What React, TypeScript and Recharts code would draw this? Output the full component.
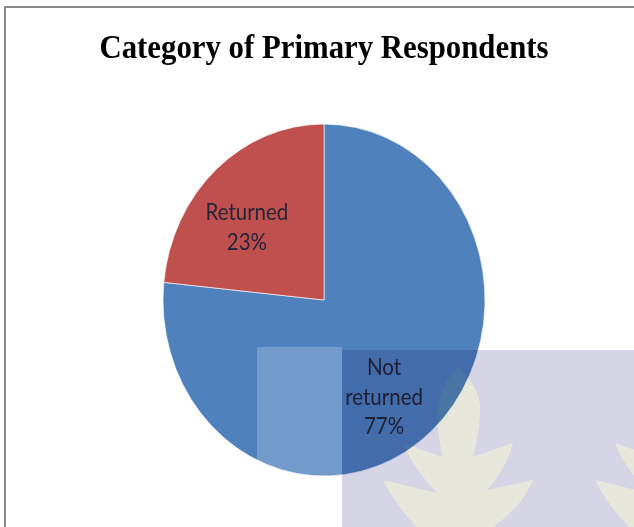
import { PieChart, Pie, Cell } from 'recharts';

const categories = ['Not returned', 'Returned'];
// labels print 77% and 23%, the slice edge sits a little past 23
const values = [76.6, 23.4];
const colors = ['#4F81BD', '#C0504D'];
const title = 'Category of Primary Respondents';

const pieData = categories.map((name, i) => ({ name, value: values[i] }));

// the source picture is stretched vertically, so the whole chart gets stretched too
const stretch = 1.093;
const labelShift: Record<string, [number, number]> = {
  'Not returned': [-11, 9.5],
  Returned: [-6, 11.5],
};
const leafPath =
  'M458 367 C472 380 482 395 480 415 C479 430 476 445 473 457 L513 443 C508 462 498 478 487 490 L533 480 C525 500 510 515 493 527 L417 527 C405 515 392 498 383 480 L437 493 C425 480 410 462 403 443 L443 457 C440 445 437 430 438 415 C438 395 445 380 458 367 Z';

function renderLabel(props: any) {
  const { cx, cy, midAngle, name, value } = props;
  const r = 106;
  const [sx, sy] = labelShift[name];
  const x = cx + r * Math.cos((-midAngle * Math.PI) / 180) + sx;
  const y = cy + r * Math.sin((-midAngle * Math.PI) / 180) + sy;
  const pct = `${Math.round(value)}%`;
  const lines = name === 'Not returned' ? ['Not', 'returned', pct] : [name, pct];
  const lineHeight = 27;
  const top = y - ((lines.length - 1) * lineHeight) / 2;
  return (
    <text x={x} y={top} textAnchor="middle" dominantBaseline="central" fill="#25253A" fontSize={20.5} fontFamily="Lato">
      {lines.map((line, i) => (
        <tspan key={line} x={x} y={top + i * lineHeight}>
          {line}
        </tspan>
      ))}
    </text>
  );
}

export default function App() {
  return (
    <div style={{ position: 'absolute', left: 0, top: 0, width: 634, height: 527, overflow: 'hidden', background: '#fff', isolation: 'isolate' }}>
      <div style={{ position: 'absolute', left: 4, top: 6, width: 640, height: 540, borderLeft: '2px solid #8A8A8A', borderTop: '2px solid #8A8A8A' }} />
      <div style={{ position: 'absolute', left: 0, top: 0, width: 634, height: 482, transform: `scaleY(${stretch})`, transformOrigin: '0 0' }}>
        <div style={{ position: 'absolute', left: 0, top: 26, width: 648, textAlign: 'center', fontFamily: '"Liberation Serif"', fontWeight: 700, fontSize: 30.8, lineHeight: '34px', color: '#000' }}>
          {title}
        </div>
        <PieChart width={634} height={482} margin={{ top: 0, right: 0, bottom: 0, left: 0 }} style={{ position: 'absolute', left: 0, top: 0 }}>
          <Pie
            data={pieData}
            dataKey="value"
            nameKey="name"
            cx={324}
            cy={274.5}
            outerRadius={161}
            startAngle={90}
            endAngle={-270}
            stroke="#fff"
            strokeWidth={0.6}
            label={renderLabel}
            labelLine={false}
            isAnimationActive={false}
          >
            {pieData.map((d, i) => (
              <Cell key={d.name} fill={colors[i]} />
            ))}
          </Pie>
        </PieChart>
      </div>
      {/* watermark pasted over the chart */}
      <div style={{ position: 'absolute', left: 257, top: 347, width: 85, height: 180, background: 'rgba(255,255,255,0.2)' }} />
      <svg width={634} height={527} style={{ position: 'absolute', left: 0, top: 0, mixBlendMode: 'multiply' }}>
        <rect x={342} y={350} width={292} height={177} fill="#D5D5E5" />
        <path d={leafPath} fill="#E8E7DC" />
        <path d={leafPath} fill="#E8E7DC" transform="translate(212 0)" />
      </svg>
    </div>
  );
}
